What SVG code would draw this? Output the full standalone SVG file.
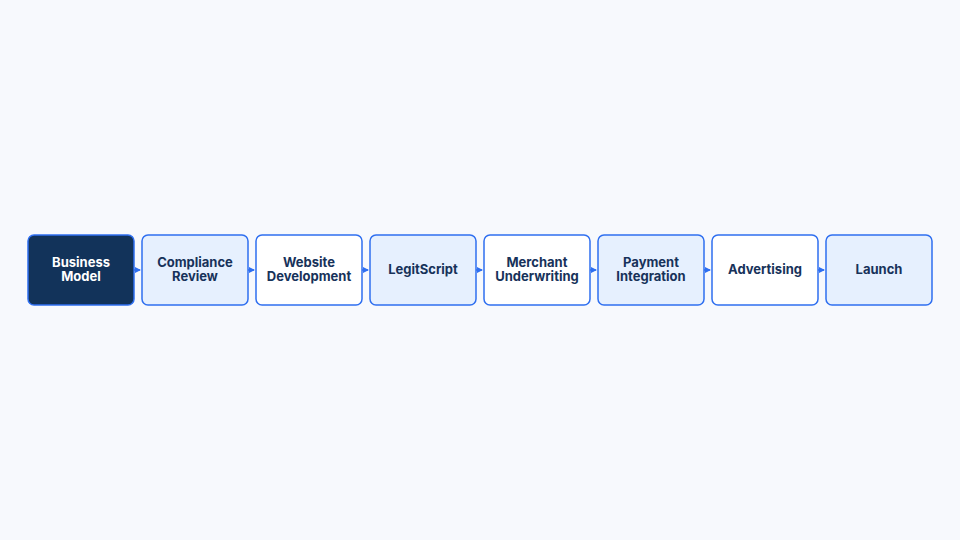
<svg xmlns="http://www.w3.org/2000/svg" width="960" height="540" viewBox="0 0 960 540">
<style>
.n{stroke:#2f6ff0;stroke-width:1.5}
.dk{fill:#12335a}
.lt{fill:#e6f0fe}
.wh{fill:#ffffff}
.t{font-family:Inter,"Liberation Sans",sans-serif;font-size:13px;font-weight:700;text-anchor:middle;fill:#17325a}
.tw{fill:#ffffff}
.c{stroke:#2f6ff0;stroke-width:1.5;fill:none}
</style>
<defs>
<marker id="ah" viewBox="0 0 6 6" refX="5" refY="3" markerWidth="6" markerHeight="6" markerUnits="userSpaceOnUse" orient="auto">
<path d="M0,0 L6,3 L0,6 Z" fill="#2f6ff0"/>
</marker>
</defs>
<rect width="960" height="540" fill="#f7f9fd"/>
<g id="connectors">
<line class="c" x1="134" y1="270" x2="140" y2="270" marker-end="url(#ah)"/>
<line class="c" x1="248" y1="270" x2="254" y2="270" marker-end="url(#ah)"/>
<line class="c" x1="362" y1="270" x2="368" y2="270" marker-end="url(#ah)"/>
<line class="c" x1="476" y1="270" x2="482" y2="270" marker-end="url(#ah)"/>
<line class="c" x1="590" y1="270" x2="596" y2="270" marker-end="url(#ah)"/>
<line class="c" x1="704" y1="270" x2="710" y2="270" marker-end="url(#ah)"/>
<line class="c" x1="818" y1="270" x2="824" y2="270" marker-end="url(#ah)"/>
</g>
<g id="n1"><rect class="n dk" x="28" y="235" width="106" height="70" rx="6"/><text class="t tw" x="81" y="267">Business</text><text class="t tw" x="81" y="281">Model</text></g>
<g id="n2"><rect class="n lt" x="142" y="235" width="106" height="70" rx="6"/><text class="t" x="195" y="267">Compliance</text><text class="t" x="195" y="281">Review</text></g>
<g id="n3"><rect class="n wh" x="256" y="235" width="106" height="70" rx="6"/><text class="t" x="309" y="267">Website</text><text class="t" x="309" y="281">Development</text></g>
<g id="n4"><rect class="n lt" x="370" y="235" width="106" height="70" rx="6"/><text class="t" x="423" y="274">LegitScript</text></g>
<g id="n5"><rect class="n wh" x="484" y="235" width="106" height="70" rx="6"/><text class="t" x="537" y="267">Merchant</text><text class="t" x="537" y="281">Underwriting</text></g>
<g id="n6"><rect class="n lt" x="598" y="235" width="106" height="70" rx="6"/><text class="t" x="651" y="267">Payment</text><text class="t" x="651" y="281">Integration</text></g>
<g id="n7"><rect class="n wh" x="712" y="235" width="106" height="70" rx="6"/><text class="t" x="765" y="274">Advertising</text></g>
<g id="n8"><rect class="n lt" x="826" y="235" width="106" height="70" rx="6"/><text class="t" x="879" y="274">Launch</text></g>
</svg>
